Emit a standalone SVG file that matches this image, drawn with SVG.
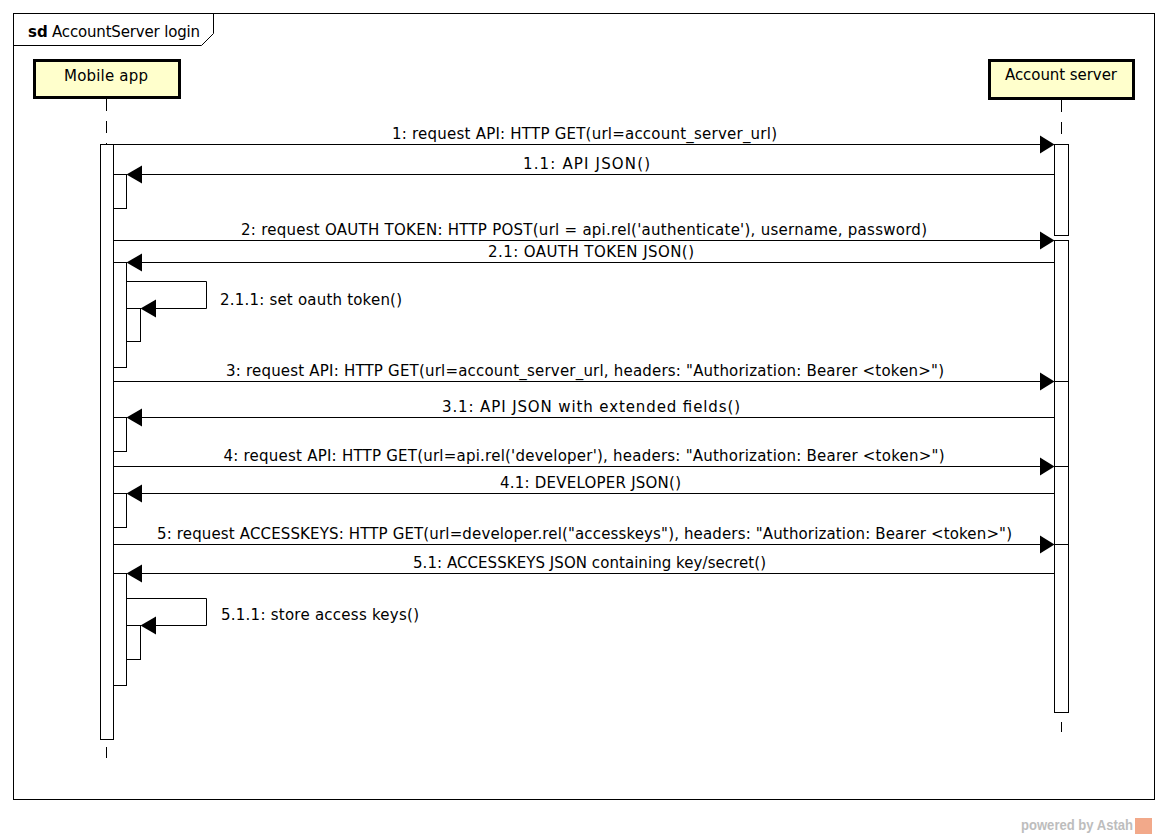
<svg xmlns="http://www.w3.org/2000/svg" width="1168" height="838" viewBox="0 0 1168 838">
<style>
  text { font-family: "DejaVu Sans", "Liberation Sans", sans-serif; font-size: 15px; fill: #000; }
  .lbl { text-anchor: middle; }
  .ll { fill: none; stroke: #000; stroke-width: 1; }
  .dash { stroke-dasharray: 12 10; }
  .head { fill: #ffffcc; stroke: #000; stroke-width: 3; }
  .act { fill: #fff; stroke: #000; stroke-width: 1; }
  .msg { fill: none; stroke: #000; stroke-width: 1; }
  .arr { fill: #000; stroke: none; }
  .wm { font-family: "Liberation Sans", "DejaVu Sans", sans-serif; font-size: 14px; font-weight: bold; fill: #bdbdbd; }
</style>
<rect x="0" y="0" width="1168" height="838" fill="#fff"/>

<g id="frame">
  <rect x="13.5" y="13.5" width="1141" height="786" fill="none" stroke="#000" stroke-width="1"/>
  <path d="M13.5,13.5 H213.5 V33.5 L201.5,45.5 H13.5" fill="none" stroke="#000" stroke-width="1"/>
  <text x="28" y="36.5" font-weight="bold">sd</text>
  <text x="52" y="36.5" textLength="148" lengthAdjust="spacing">AccountServer login</text>
</g>

<g id="mobile-app">
  <rect class="head" x="34.5" y="60.5" width="145" height="37"/>
  <text class="lbl" x="106" y="80.5" textLength="84" lengthAdjust="spacing">Mobile app</text>
  <line class="ll dash" x1="106.5" y1="99" x2="106.5" y2="144"/>
  <line class="ll" x1="106.5" y1="747" x2="106.5" y2="758"/>
  <rect class="act" x="100.5" y="144.5" width="13" height="595"/>
  <rect class="act" x="113.5" y="174.5" width="13" height="34"/>
  <rect class="act" x="113.5" y="262.5" width="13" height="105"/>
  <rect class="act" x="126.5" y="308.5" width="14" height="33"/>
  <rect class="act" x="113.5" y="417.5" width="13" height="34"/>
  <rect class="act" x="113.5" y="493.5" width="13" height="34"/>
  <rect class="act" x="113.5" y="573.5" width="13" height="112"/>
  <rect class="act" x="126.5" y="625.5" width="14" height="34"/>
</g>

<g id="account-server">
  <rect class="head" x="989.5" y="60.5" width="144" height="38"/>
  <text class="lbl" x="1061" y="80" textLength="112" lengthAdjust="spacing">Account server</text>
  <line class="ll dash" x1="1061.5" y1="100" x2="1061.5" y2="144"/>
  <line class="ll" x1="1061.5" y1="722" x2="1061.5" y2="732"/>
  <rect class="act" x="1054.5" y="144.5" width="14" height="91"/>
  <rect class="act" x="1054.5" y="240.5" width="14" height="472"/>
  <line class="ll" x1="1054.5" y1="381.5" x2="1068.5" y2="381.5"/>
  <line class="ll" x1="1054.5" y1="466.5" x2="1068.5" y2="466.5"/>
  <line class="ll" x1="1054.5" y1="544.5" x2="1068.5" y2="544.5"/>
</g>

<g id="connectors">
  <!-- 1 -->
  <line class="msg" x1="113.5" y1="144.5" x2="1042" y2="144.5"/>
  <polygon class="arr" points="1054.5,144.5 1040,135.5 1040,153.5"/>
  <text class="lbl" x="584.5" y="138.5" textLength="385" lengthAdjust="spacing">1: request API: HTTP GET(url=account_server_url)</text>
  <!-- 1.1 -->
  <line class="msg" x1="1054.5" y1="174.5" x2="140" y2="174.5"/>
  <polygon class="arr" points="126.5,174.5 142,165.5 142,183.5"/>
  <text class="lbl" x="586.5" y="169" textLength="127" lengthAdjust="spacing">1.1: API JSON()</text>
  <!-- 2 -->
  <line class="msg" x1="113.5" y1="240.5" x2="1042" y2="240.5"/>
  <polygon class="arr" points="1054.5,240.5 1040,231.5 1040,249.5"/>
  <text class="lbl" x="584" y="234.5" textLength="686" lengthAdjust="spacing">2: request OAUTH TOKEN: HTTP POST(url = api.rel('authenticate'), username, password)</text>
  <!-- 2.1 -->
  <line class="msg" x1="1054.5" y1="262.5" x2="140" y2="262.5"/>
  <polygon class="arr" points="126.5,262.5 142,253.5 142,271.5"/>
  <text class="lbl" x="591" y="256.5" textLength="206" lengthAdjust="spacing">2.1: OAUTH TOKEN JSON()</text>
  <!-- 2.1.1 self -->
  <path class="msg" d="M126.5,281.5 H206.5 V308.5 H153"/>
  <polygon class="arr" points="140.5,308.5 156,299.5 156,317.5"/>
  <text x="220" y="305" textLength="182" lengthAdjust="spacing">2.1.1: set oauth token()</text>
  <!-- 3 -->
  <line class="msg" x1="113.5" y1="381.5" x2="1042" y2="381.5"/>
  <polygon class="arr" points="1054.5,381.5 1040,372.5 1040,390.5"/>
  <text class="lbl" x="585" y="375.5" textLength="718" lengthAdjust="spacing">3: request API: HTTP GET(url=account_server_url, headers: "Authorization: Bearer &lt;token&gt;")</text>
  <!-- 3.1 -->
  <line class="msg" x1="1054.5" y1="417.5" x2="140" y2="417.5"/>
  <polygon class="arr" points="126.5,417.5 142,408.5 142,426.5"/>
  <text class="lbl" x="591" y="412" textLength="298" lengthAdjust="spacing">3.1: API JSON with extended fields()</text>
  <!-- 4 -->
  <line class="msg" x1="113.5" y1="466.5" x2="1042" y2="466.5"/>
  <polygon class="arr" points="1054.5,466.5 1040,457.5 1040,475.5"/>
  <text class="lbl" x="584" y="460.5" textLength="721" lengthAdjust="spacing">4: request API: HTTP GET(url=api.rel('developer'), headers: "Authorization: Bearer &lt;token&gt;")</text>
  <!-- 4.1 -->
  <line class="msg" x1="1054.5" y1="493.5" x2="140" y2="493.5"/>
  <polygon class="arr" points="126.5,493.5 142,484.5 142,502.5"/>
  <text class="lbl" x="590.5" y="487.5" textLength="181" lengthAdjust="spacing">4.1: DEVELOPER JSON()</text>
  <!-- 5 -->
  <line class="msg" x1="113.5" y1="544.5" x2="1042" y2="544.5"/>
  <polygon class="arr" points="1054.5,544.5 1040,535.5 1040,553.5"/>
  <text class="lbl" x="584.5" y="538.5" textLength="855" lengthAdjust="spacing">5: request ACCESSKEYS: HTTP GET(url=developer.rel("accesskeys"), headers: "Authorization: Bearer &lt;token&gt;")</text>
  <!-- 5.1 -->
  <line class="msg" x1="1054.5" y1="573.5" x2="140" y2="573.5"/>
  <polygon class="arr" points="126.5,573.5 142,564.5 142,582.5"/>
  <text class="lbl" x="589.5" y="567.5" textLength="353" lengthAdjust="spacing">5.1: ACCESSKEYS JSON containing key/secret()</text>
  <!-- 5.1.1 self -->
  <path class="msg" d="M126.5,598.5 H206.5 V625.5 H153"/>
  <polygon class="arr" points="140.5,625.5 156,616.5 156,634.5"/>
  <text x="221" y="620" textLength="198" lengthAdjust="spacing">5.1.1: store access keys()</text>
</g>

<g id="watermark">
  <text class="wm" x="1021" y="830" textLength="112" lengthAdjust="spacingAndGlyphs">powered by Astah</text>
  <rect x="1135" y="818" width="17" height="16" fill="#f2a98a"/>
</g>
</svg>
